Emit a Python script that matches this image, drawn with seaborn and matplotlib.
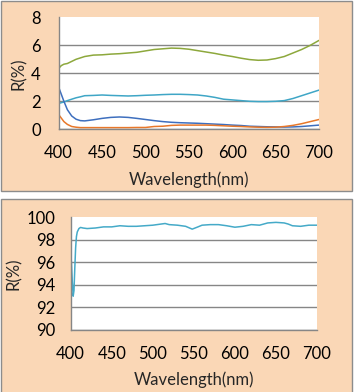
import numpy as np
import pandas as pd
import matplotlib
matplotlib.use("Agg")
import matplotlib.pyplot as plt
from matplotlib.patches import Rectangle
import seaborn as sns

# Dados
wl_top = [400, 403, 406, 410, 415, 420, 425, 430, 440, 450, 460, 470, 480, 490,
          500, 510, 520, 530, 540, 550, 560, 570, 580, 590, 600, 610, 620, 630,
          640, 650, 660, 670, 680, 690, 700]
r_green = [4.35, 4.55, 4.65, 4.7, 4.85, 5.0, 5.1, 5.2, 5.3, 5.32, 5.37, 5.4, 5.45, 5.5,
           5.6, 5.7, 5.75, 5.8, 5.78, 5.72, 5.62, 5.52, 5.42, 5.3, 5.2, 5.08, 4.98, 4.93,
           4.95, 5.05, 5.2, 5.45, 5.7, 6.0, 6.35]
r_teal = [1.85, 1.9, 1.95, 2.05, 2.15, 2.25, 2.32, 2.4, 2.42, 2.45, 2.42, 2.4, 2.38, 2.4,
          2.43, 2.45, 2.48, 2.5, 2.5, 2.48, 2.45, 2.38, 2.28, 2.15, 2.1, 2.05, 2.0, 1.98,
          1.98, 2.0, 2.05, 2.2, 2.4, 2.6, 2.8]
r_blue = [3.0, 2.5, 2.0, 1.4, 0.95, 0.72, 0.62, 0.6, 0.68, 0.78, 0.85, 0.88, 0.85, 0.78,
          0.7, 0.62, 0.55, 0.5, 0.47, 0.45, 0.43, 0.4, 0.37, 0.34, 0.3, 0.27, 0.22, 0.2,
          0.18, 0.17, 0.16, 0.17, 0.2, 0.25, 0.3]
r_orange = [1.05, 0.8, 0.55, 0.35, 0.2, 0.15, 0.12, 0.12, 0.12, 0.12, 0.12, 0.12, 0.12, 0.13,
            0.13, 0.2, 0.22, 0.28, 0.3, 0.3, 0.3, 0.3, 0.28, 0.25, 0.22, 0.2, 0.17, 0.15,
            0.14, 0.15, 0.2, 0.28, 0.4, 0.55, 0.7]

wl_bot = [400, 401, 402, 403, 404, 405, 406, 407, 408, 410, 412, 415, 420, 430, 440,
          450, 460, 470, 480, 490, 500, 510, 515, 520, 530, 540, 548, 555, 560, 570,
          580, 590, 600, 610, 620, 630, 640, 650, 660, 665, 670, 680, 690, 700]
r_bot = [97.0, 95.8, 94.2, 93.0, 93.5, 95.5, 97.3, 98.3, 98.7, 99.0, 99.1, 99.05, 99.0,
         99.05, 99.15, 99.15, 99.25, 99.2, 99.2, 99.25, 99.3, 99.4, 99.45, 99.35, 99.3,
         99.2, 98.95, 99.15, 99.3, 99.35, 99.35, 99.25, 99.12, 99.2, 99.35, 99.3, 99.5,
         99.55, 99.5, 99.4, 99.25, 99.2, 99.3, 99.3]

x_ticks = [400, 450, 500, 550, 600, 650, 700]

sns.set_style("white")
plt.rcParams['font.family'] = ['Lato', 'DejaVu Sans']

W, H = 355, 392
fig = plt.figure(figsize=(W / 100, H / 100), dpi=100)

# Fundos dos paineis
bg = '#FAD7B6'
edge = '#8C8C8C'
fig.patches.append(Rectangle((0.5 / W, 1 - 190.5 / H), 351 / W, 190 / H,
                             transform=fig.transFigure, facecolor=bg,
                             edgecolor=edge, lw=1, zorder=-5))
fig.patches.append(Rectangle((0.5 / W, -0.01), 351 / W, (193 + 4) / H,
                             transform=fig.transFigure, facecolor=bg,
                             edgecolor=edge, lw=1, zorder=-5))

ax1 = fig.add_axes([58.7 / W, 1 - 129.3 / H, 260.3 / W, 112 / H])
ax2 = fig.add_axes([70.7 / W, 1 - 330 / H, 246.3 / W, 112.7 / H])

df_top = pd.DataFrame({'wl': wl_top, 'green': r_green, 'teal': r_teal,
                       'blue': r_blue, 'orange': r_orange})
cores = {'green': '#8DA83C', 'teal': '#3FA6C6', 'blue': '#3E6FBE', 'orange': '#E8782A'}
for col in ['green', 'teal', 'blue', 'orange']:
    sns.lineplot(data=df_top, x='wl', y=col, ax=ax1, color=cores[col], lw=1.1)

df_bot = pd.DataFrame({'wl': wl_bot, 'r': r_bot})
sns.lineplot(data=df_bot, x='wl', y='r', ax=ax2, color='#45AAC8', lw=1.1)

grey = '#868686'
for ax, ylim, yt, ypad in [(ax1, (0, 8), [0, 2, 4, 6, 8], 10),
                           (ax2, (90, 100), [90, 92, 94, 96, 98, 100], 8)]:
    ax.set_facecolor('white')
    ax.set_xlim(400, 700)
    ax.set_ylim(*ylim)
    ax.set_xticks(x_ticks)
    ax.set_yticks(yt)
    ax.grid(axis='y', color=grey, lw=1)
    ax.set_axisbelow(True)
    ax.get_ygridlines()[-1].set_visible(False)
    for s in ['top', 'right']:
        ax.spines[s].set_visible(False)
    for s in ['left', 'bottom']:
        ax.spines[s].set_color(grey)
        ax.spines[s].set_linewidth(1)
    ax.tick_params(axis='both', length=3, width=1, color=grey, labelsize=12,
                   labelcolor='black', direction='out')
    ax.tick_params(axis='x', pad=8.5)
    ax.tick_params(axis='y', pad=ypad)
    ax.set_xlabel('Wavelength(nm)', fontsize=12, labelpad=7)
    ax.set_ylabel('R(%)', fontsize=12, labelpad=3)

fig.savefig('out.png', dpi=100)
